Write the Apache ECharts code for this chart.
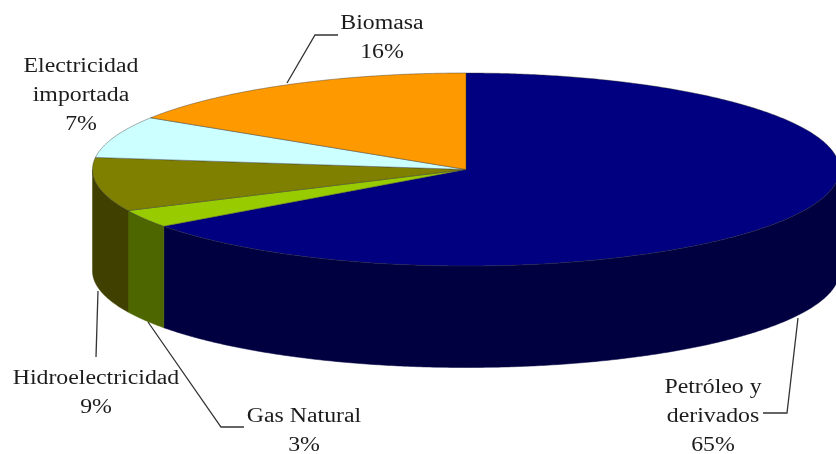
<!DOCTYPE html>
<html>
<head>
<meta charset="utf-8">
<style>html,body{margin:0;padding:0;background:#fff}#chart{width:836px;height:454px}</style>
<script src="https://cdn.jsdelivr.net/npm/echarts@6/dist/echarts.min.js"></script>
</head>
<body>
<div id="chart"></div>
<script>
// slices run clockwise from 12 o'clock
var categories = ['Petróleo y\nderivados', 'Gas Natural', 'Hidroelectricidad', 'Electricidad\nimportada', 'Biomasa'];
var values = [65, 3, 9, 7, 16];
var topColors = ['#000080', '#99cc00', '#808000', '#ccffff', '#ff9900'];
var wallColors = ['#000040', '#4d6600', '#404000', '#667f7f', '#7f4c00'];

var labelPos = [[713, 417], [304, 431], [96, 393.5], [81, 95.5], [382, 38]];
var leaders = [
	[[798, 318], [787, 413], [763, 413]],
	[[148, 322], [221, 427], [244, 427]],
	[[98, 291], [96, 357]],
	[],
	[[287, 83], [315, 35], [338, 35]]
];

var cx = 466, cy = 169.5, rx = 373.5, ry = 96.5, depth = 101.5;
var total = values.reduce(function(a, b){ return a + b; }, 0);

function rimPoint(deg, dy){
	var a = deg * Math.PI / 180;
	return [cx + rx * Math.sin(a), cy - ry * Math.cos(a) + dy];
}

function arcPoints(from, to, dy){
	var pts = [];
	for(var d = from; d < to; d += 0.5){
		pts.push(rimPoint(d, dy));
	}
	pts.push(rimPoint(to, dy));
	return pts;
}

var rows = [];
var sum = 0;
for(var i = 0; i < values.length; i++){
	rows.push({name: categories[i], value: [values[i], sum]});
	sum += values[i];
}

function renderSlice(params, api){
	var start = api.value(1) / total * 360;
	var end = start + api.value(0) / total * 360;
	var children = [];
	// only the front half of the rim shows a wall
	var wallFrom = Math.max(start, 90), wallTo = Math.min(end, 270);
	if(wallFrom < wallTo){
		var wall = arcPoints(wallFrom, wallTo, 0).concat(arcPoints(wallFrom, wallTo, depth).reverse());
		children.push({
			type: 'polygon',
			shape: {points: wall},
			style: {fill: wallColors[params.dataIndex], stroke: wallColors[params.dataIndex], lineWidth: 0.5}
		});
	}
	var top = [[cx, cy]].concat(arcPoints(start, end, 0));
	children.push({
		type: 'polygon',
		shape: {points: top},
		style: {fill: topColors[params.dataIndex], stroke: 'rgba(50,50,50,0.7)', lineWidth: 0.6}
	});
	return {type: 'group', children: children};
}

var graphics = [];
for(var j = 0; j < values.length; j++){
	graphics.push({
		type: 'text',
		x: labelPos[j][0],
		y: labelPos[j][1],
		scaleX: 1.19,
		silent: true,
		style: {
			text: categories[j] + '\n' + values[j] + '%',
			font: '20px "Liberation Serif"',
			lineHeight: 29,
			fill: '#1c1c1c',
			align: 'center',
			verticalAlign: 'middle'
		}
	});
	if(leaders[j].length){
		graphics.push({
			type: 'polyline',
			silent: true,
			shape: {points: leaders[j]},
			style: {fill: null, stroke: '#333', lineWidth: 1.3}
		});
	}
}

var myChart = echarts.init(document.getElementById('chart'), null, {renderer: 'canvas'});
myChart.setOption({
	backgroundColor: '#fff',
	animation: false,
	graphic: graphics,
	series: [{
		type: 'custom',
		coordinateSystem: 'none',
		silent: true,
		renderItem: renderSlice,
		data: rows
	}]
});
</script>
</body>
</html>
